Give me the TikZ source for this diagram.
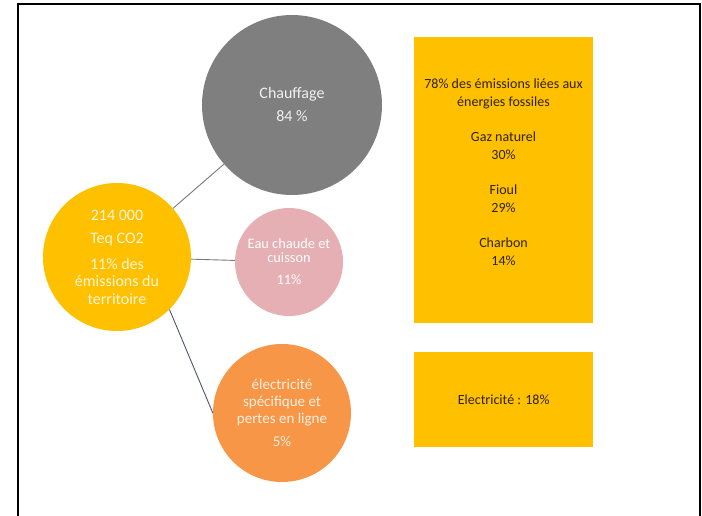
\documentclass[tikz,border=0pt]{standalone}
\usepackage{fontspec}
\setmainfont{Carlito}
\usepackage{tikz}
\usetikzlibrary{positioning}
\definecolor{gold}{HTML}{FFC000}
\definecolor{heatgrey}{HTML}{7F7F7F}
\definecolor{rosewater}{HTML}{E5AFB3}
\definecolor{elecorange}{HTML}{F79646}
\definecolor{boxink}{HTML}{2E2300}
\definecolor{linkgrey}{HTML}{7A7A7A}
\definecolor{linkblue}{HTML}{4F5668}
\tikzset{
  bubble/.style={circle,inner sep=0pt,align=center,text=white},
  infobox/.style={rectangle,fill=gold,inner sep=0pt,anchor=north west},
  boxtext/.style={align=center,text=boxink,font=\fontsize{14}{18}\selectfont},
  link/.style={line width=0.9pt,color=linkgrey},
}

\begin{document}
\begin{tikzpicture}[x=1pt,y=-1pt]
  \useasboundingbox (0,0) rectangle (702,515);
  \fill[white] (0,0) rectangle (702,515);
  \draw[line width=1.6pt] (18,520) -- (18,4) -- (700,4) -- (700,520);

  % bubbles
  \node[bubble,fill=gold,minimum size=148pt,text=white!85!gold,
    font=\fontsize{16}{17.5}\selectfont] (total) at (117,257)
    {214 000\\[6pt]Teq CO2\\[8pt]11\% des\\émissions du\\territoire};
  \node[bubble,fill=heatgrey,minimum size=180pt,text=white!88!heatgrey,
    font=\fontsize{16}{23}\selectfont] (heat) at (292,105)
    {Chauffage\\84 \%};
  \node[bubble,fill=rosewater,minimum size=108pt,
    font=\fontsize{14.4}{13.5}\selectfont] (water) at (289,262)
    {Eau chaude et\\cuisson\\[9pt]11\%};
  \node[bubble,fill=elecorange,minimum size=138pt,text=white!85!elecorange,
    font=\fontsize{15}{17}\selectfont] (elec) at (282,413)
    {électricité\\spécifique et\\pertes en ligne\\[6pt]5\%};

  % side boxes
  \node[infobox,minimum width=179pt,minimum height=286pt] (fossil) at (414,37) {};
  \node[boxtext] (fossiltxt) at (503.5,172)
    {78\% des émissions liées aux\\énergies fossiles\\[17pt]Gaz naturel\\30\%\\[17pt]Fioul\\29\%\\[17pt]Charbon\\14\%};
  \node[infobox,minimum width=179pt,minimum height=95pt] (power) at (414,352) {};
  \node[boxtext] (powertxt) at (power.center) {Electricité : 18\%};

  % links
  \draw[link] (total) -- (heat);
  \draw[link] (total) -- (water);
  \draw[link,color=linkblue] (total.-45) -- (elec.west);
\end{tikzpicture}
\end{document}
